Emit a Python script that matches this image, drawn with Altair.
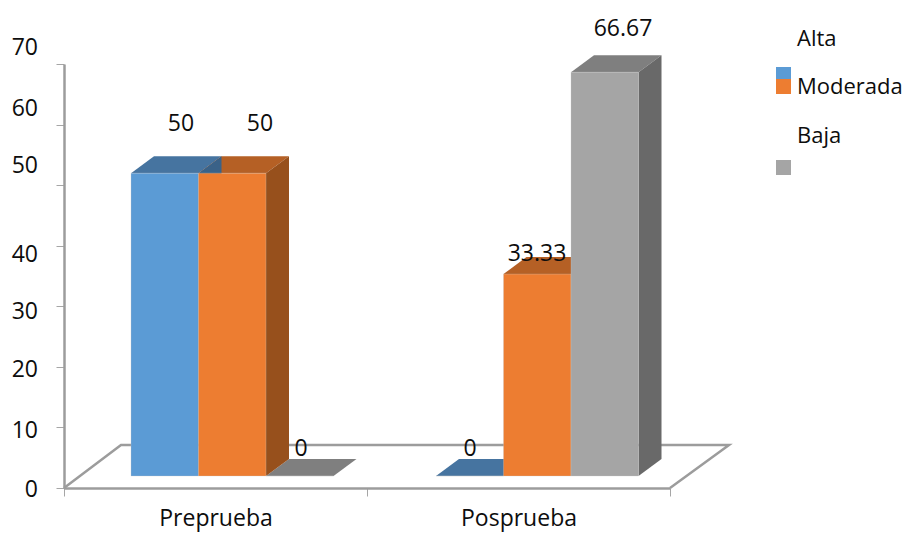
import altair as alt
import pandas as pd

categories = ["Preprueba", "Posprueba"]
series = ["Alta", "Moderada", "Baja"]
alta = [50, 0]
moderada = [50, 33.33]
baja = [0, 66.67]
y_ticks = [0, 10, 20, 30, 40, 50, 60, 70]

front = {"Alta": "#5B9BD5", "Moderada": "#ED7D31", "Baja": "#A5A5A5"}
top_c = {"Alta": "#4674A0", "Moderada": "#B56025", "Baja": "#7F7F7F"}
side_c = {"Alta": "#3A6288", "Moderada": "#97501C", "Baja": "#696969"}

X0, PXC = 64, 303.0
Y0, PXV = 488, 424 / 70


def xu(px):
    return (px - X0) / PXC


def yu(py):
    return (Y0 - py) / PXV


# 3-D projection of the bars
cat_start = [131, 436]
bar_w, dx, dy, base_py = 67.5, 23, 17, 476
base = yu(base_py)
ddy = dy / PXV

rects, areas = [], []
values = {"Alta": alta, "Moderada": moderada, "Baja": baja}
for c, cat in enumerate(categories):
    for s, name in enumerate(series):
        v = values[name][c]
        x1 = cat_start[c] + s * bar_w
        x2 = x1 + bar_w
        t = base + v
        rects.append(dict(x=xu(x1), x2=xu(x2), y=base, y2=t, color=front[name]))
        key = f"{cat}-{name}"
        for px, hi, lo in [
            (x1, t, t),
            (x1 + dx, t + ddy, t),
            (x2, t + ddy, t),
            (x2 + dx, t + ddy, t + ddy),
        ]:
            areas.append(dict(x=xu(px), y=hi, y2=lo, color=top_c[name], face=key + "-top", layer=0))
        for px, d in [(x2, 0), (x2 + dx, ddy)]:
            areas.append(dict(x=xu(px), y=t + d, y2=base + d, color=side_c[name], face=key + "-side", layer=1))

areas = pd.DataFrame(areas)
rects = pd.DataFrame(rects)

x_scale = alt.Scale(domain=[0, 2], nice=False, zero=False)
y_scale = alt.Scale(domain=[0, 70], nice=False, zero=False)
X = alt.X("x:Q", scale=x_scale, title=None,
          axis=alt.Axis(values=[0, 1, 2], labels=False, grid=False, domainColor="#9C9C9C",
                        domainWidth=2.5, tickColor="#A6A6A6", tickWidth=1, tickSize=8))
Y = alt.Y("y:Q", scale=y_scale, title=None, stack=None,
          axis=alt.Axis(values=y_ticks, labels=False, grid=False, domainColor="#9C9C9C",
                        domainWidth=2.5, tickColor="#A6A6A6", tickWidth=1, tickSize=8))
COLOR = alt.Color("color:N", scale=None)

# floor outline
floor = pd.DataFrame({
    "x": [xu(64), xu(121), xu(729), xu(670)],
    "y": [yu(488), yu(445), yu(445), yu(488)],
    "o": [0, 1, 2, 3],
})
floor_l = alt.Chart(floor).mark_line(color="#9C9C9C", strokeWidth=2.5).encode(x=X, y=Y, order="o:Q")

tops = alt.Chart(areas[areas.layer == 0]).mark_area(opacity=1).encode(
    x=X, y=Y, y2="y2:Q", color=COLOR, detail="face:N")
sides = alt.Chart(areas[areas.layer == 1]).mark_area(opacity=1).encode(
    x=X, y=Y, y2="y2:Q", color=COLOR, detail="face:N")
fronts = alt.Chart(rects).mark_rect(stroke="#C8C8C8", strokeWidth=0.5, strokeOpacity=0.6).encode(
    x=X, x2="x2:Q", y=Y, y2="y2:Q", color=COLOR)

# legend swatches
swatch = pd.DataFrame([
    dict(x=xu(776), x2=xu(791), y=yu(67), y2=yu(80), color=front["Alta"]),
    dict(x=xu(776), x2=xu(791), y=yu(79), y2=yu(94), color=front["Moderada"]),
    dict(x=xu(776), x2=xu(791), y=yu(160), y2=yu(175), color=front["Baja"]),
])
legend_sw = alt.Chart(swatch).mark_rect().encode(
    x=X, x2="x2:Q", y=Y, y2="y2:Q", color=COLOR)

FONT = dict(font="Open Sans", color="#0D0D0D", baseline="middle")


def texts(rows, align, size=23):
    df = pd.DataFrame([dict(t=t, x=xu(px), y=yu(py)) for t, px, py in rows])
    return alt.Chart(df).mark_text(align=align, fontSize=size, **FONT).encode(x=X, y=Y, text="t:N")


tick_py = [490, 431, 370, 312, 255, 166, 109, 48]
tick_labels = texts([(str(v), 38, p) for v, p in zip(y_ticks, tick_py)], "right")
cat_labels = texts([(categories[0], 216, 519), (categories[1], 519, 519)], "center")
data_labels = texts([
    ("50", 181, 124), ("50", 260, 124), ("0", 301, 449),
    ("0", 470, 449), ("33.33", 537, 254), ("66.67", 623, 29),
], "center")
legend_t = texts([(series[0], 797, 39), (series[1], 797, 87), (series[2], 797, 136)], "left", 22)

chart = alt.layer(
    floor_l, tops, sides, fronts, legend_sw, tick_labels, cat_labels, data_labels, legend_t
).properties(
    width=606, height=424,
    padding={"left": 56, "top": 56, "right": 233, "bottom": 45},
    autosize=alt.AutoSizeParams(type="none"),
    background="white",
).configure_view(stroke=None)

chart.save("out.html", embed_options={"renderer": "svg", "actions": False})
